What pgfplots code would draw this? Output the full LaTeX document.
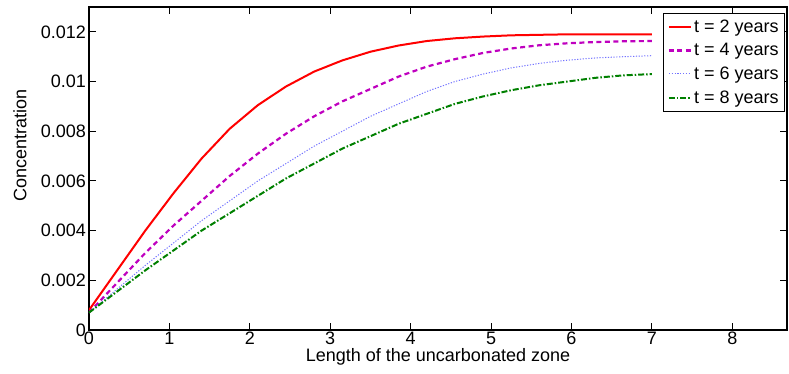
\documentclass[border=0pt]{standalone}
\usepackage{pgfplots}
\pgfplotsset{compat=1.18}
\usepackage{fontspec}
\setmainfont{Liberation Sans}
\definecolor{mag}{rgb}{0.75,0,0.75}
\definecolor{lblue}{rgb}{0.45,0.45,1}
\definecolor{dgreen}{rgb}{0,0.5,0}
\begin{document}
\begin{tikzpicture}[font=\fontsize{18}{21}\selectfont]
\begin{axis}[name=ax, scale only axis, width=698pt, height=323pt,
  xmin=0, xmax=8.68, ymin=0, ymax=0.013,
  xtick={0,1,2,3,4,5,6,7,8},
  ytick={0,0.002,0.004,0.006,0.008,0.01,0.012},
  yticklabels={0,0.002,0.004,0.006,0.008,0.01,0.012},
  scaled y ticks=false,
  /pgf/number format/assume math mode=true,
  tick align=inside, major tick length=7pt,
  axis line style={line width=1.1pt},
  every tick/.style={black, line width=0.9pt},
  xticklabel style={inner sep=0pt, yshift=-2pt},
  yticklabel style={inner sep=0pt, xshift=-3pt},
  xlabel={Length of the uncarbonated zone},
  ylabel={Concentration},
  xlabel style={inner sep=0pt, at={(axis description cs:0.5,0)}, anchor=north, yshift=-18pt},
  ylabel style={inner sep=0pt, at={(axis description cs:-0.099,0.57)}, anchor=center},
  legend style={at={(1,1)}, anchor=north east, xshift=-2pt, yshift=-6pt,
    draw=black, line width=0.9pt, inner xsep=4pt, inner ysep=4.5pt, row sep=5.5pt,
    font=\fontsize{18}{21}\selectfont, cells={anchor=west}},
  legend image code/.code={\draw[#1] (0pt,0pt) -- (22pt,0pt);},
]
\addplot[red, line width=2pt] coordinates {
(0,0.0008) (0.35,0.0024) (0.7,0.0040) (1.05,0.0055) (1.4,0.0069) (1.75,0.0081)
(2.1,0.00905) (2.45,0.0098) (2.8,0.0104) (3.15,0.01085) (3.5,0.0112) (3.85,0.01145)
(4.2,0.01163) (4.55,0.01174) (4.9,0.01181) (5.25,0.01186) (5.6,0.01188) (5.95,0.0119)
(6.3,0.0119) (6.65,0.0119) (7,0.0119)};
\addlegendentry{t = 2 years}
\addplot[mag, line width=2.2pt, dash pattern=on 5pt off 3.5pt] coordinates {
(0,0.0007) (0.35,0.0019) (0.7,0.0031) (1.05,0.0042) (1.4,0.0052) (1.75,0.0062)
(2.1,0.0071) (2.45,0.0079) (2.8,0.0086) (3.15,0.0092) (3.5,0.0097) (3.85,0.0102)
(4.2,0.0106) (4.55,0.0109) (4.9,0.01115) (5.25,0.01133) (5.6,0.01146) (5.95,0.01154)
(6.3,0.01159) (6.65,0.01162) (7,0.01163)};
\addlegendentry{t = 4 years}
\addplot[lblue, line width=1pt, dash pattern=on 1.2pt off 1.6pt] coordinates {
(0,0.0007) (0.35,0.00165) (0.7,0.0026) (1.05,0.0035) (1.4,0.0044) (1.75,0.0052)
(2.1,0.0060) (2.45,0.0067) (2.8,0.0074) (3.15,0.0080) (3.5,0.0086) (3.85,0.0091)
(4.2,0.0096) (4.55,0.0100) (4.9,0.0103) (5.25,0.01055) (5.6,0.01073) (5.95,0.01086)
(6.3,0.01095) (6.65,0.0110) (7,0.01104)};
\addlegendentry{t = 6 years}
\addplot[dgreen, line width=2pt, dash pattern=on 6pt off 2pt on 1.5pt off 2pt] coordinates {
(0,0.0007) (0.35,0.00155) (0.7,0.0024) (1.05,0.0032) (1.4,0.0040) (1.75,0.0047)
(2.1,0.0054) (2.45,0.0061) (2.8,0.0067) (3.15,0.0073) (3.5,0.0078) (3.85,0.0083)
(4.2,0.0087) (4.55,0.0091) (4.9,0.0094) (5.25,0.00965) (5.6,0.00985) (5.95,0.0100)
(6.3,0.01015) (6.65,0.01025) (7,0.0103)};
\addlegendentry{t = 8 years}
\end{axis}
\pgfresetboundingbox
\path ([shift={(-89pt,-44pt)}]ax.south west) rectangle ([shift={(2pt,7pt)}]ax.north east);
\end{tikzpicture}
\end{document}
